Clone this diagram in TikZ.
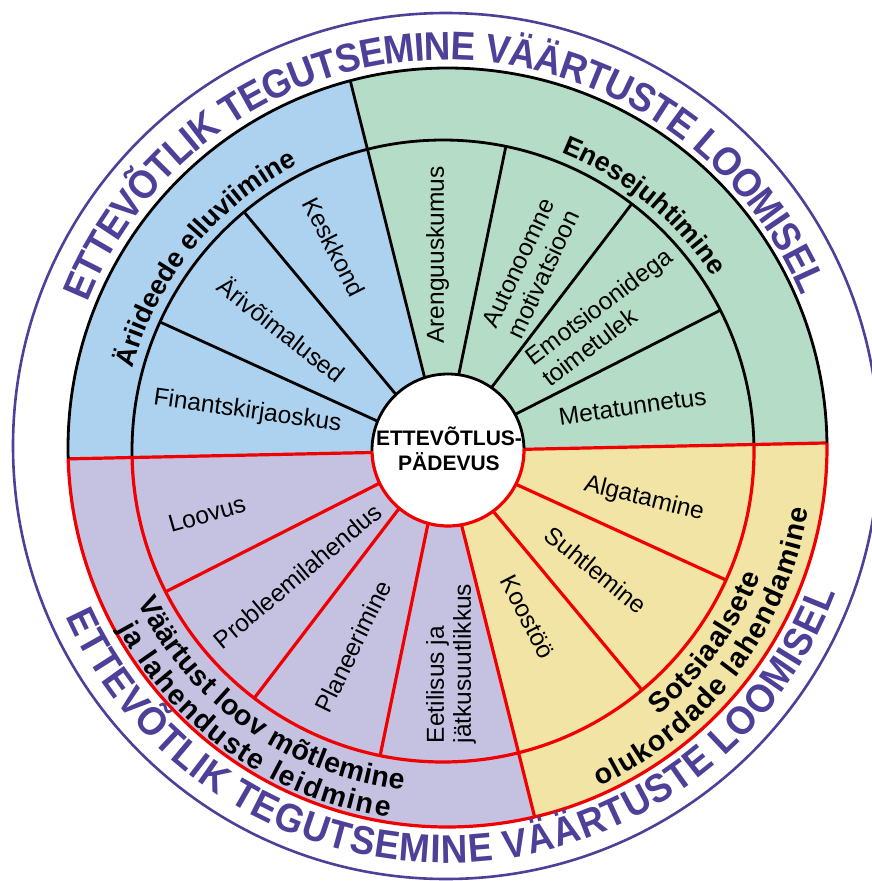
\documentclass[tikz,border=0pt]{standalone}
\usepackage{fontspec}
\setmainfont{Liberation Sans}
\newfontfamily\ringfont{Liberation Sans}[FakeStretch=0.92]
\usetikzlibrary{calc,decorations.text}
\definecolor{blueF}{HTML}{ADD2EF}
\definecolor{greenF}{HTML}{B5DCC6}
\definecolor{purpleF}{HTML}{C5C1E1}
\definecolor{yellowF}{HTML}{F2E4A5}
\definecolor{ringC}{HTML}{4E3F98}
\definecolor{redL}{HTML}{F00000}
\newcommand\catfontA{\fontsize{27}{27}\selectfont\bfseries}
\newcommand\catfontB{\fontsize{28.5}{28.5}\selectfont\bfseries}
\newcommand\ringfmt{\ringfont\bfseries\fontsize{40}{40}\selectfont\color{ringC}}
\begin{document}
\begin{tikzpicture}[x=1pt,y=1pt,
  blk/.style={line width=2.8pt, black},
  redl/.style={line width=3.2pt, redL},
  seglabel/.style={font=\fontsize{24.5}{27}\selectfont, inner sep=0pt},
  centerlabel/.style={font=\fontsize{21}{24.7}\selectfont\bfseries, align=center, inner sep=0pt}]
\useasboundingbox (0,0) rectangle (872,-881);
\coordinate (C1) at (447.5,-447.5);
\coordinate (C2) at (443,-451);
\coordinate (C0) at (448,-450);
\coordinate (CR) at (446,-446);

% outer ring
\draw[ringC, line width=2.6pt] (CR) circle[radius=433];

% coloured sectors and radial lines
\begin{scope}
\clip (C1) circle[radius=379.5];
\fill[greenF] (C2) -- ++(1.2:600) arc[start angle=1.2,end angle=104.06,radius=600] -- cycle;
\fill[blueF] (C2) -- ++(104.06:600) arc[start angle=104.06,end angle=181.2,radius=600] -- cycle;
\fill[purpleF] (C2) -- ++(181.2:600) arc[start angle=181.2,end angle=284.06,radius=600] -- cycle;
\fill[yellowF] (C2) -- ++(284.06:600) arc[start angle=284.06,end angle=361.2,radius=600] -- cycle;
\draw[blk] (C2) -- ++(104.06:600);
\foreach \a in {26.91,52.63,78.34,129.77,155.49} \draw[blk] (C2) -- ++(\a:311);
\draw[blk] ($(C2)+(1.2:311)$) arc[start angle=1.2,end angle=181.2,radius=311];
\foreach \a in {206.91,232.63,258.34,309.77,335.49} \draw[redl] (C2) -- ++(\a:311);
\draw[redl] ($(C2)+(181.2:311)$) arc[start angle=181.2,end angle=361.2,radius=311];
\draw[redl] (C2) -- ++(284.06:600);
\draw[redl] ($(C2)+(181.2:600)$) -- ($(C2)+(1.2:600)$);
\end{scope}

% outer edge of coloured disc
\draw[blk] ($(C1)+(0.7:379.5)$) arc[start angle=0.7,end angle=181.7,radius=379.5];
\draw[redl] ($(C1)+(181.7:379.5)$) arc[start angle=181.7,end angle=360.7,radius=379.5];

% centre circle
\fill[white] (C0) circle[radius=76];
\draw[blk] ($(C0)+(1:76)$) arc[start angle=1,end angle=181,radius=76];
\draw[redl] ($(C0)+(181:76)$) arc[start angle=181,end angle=361,radius=76];
\node[centerlabel] (ctr) at (449,-449) {ETTEVÕTLUS-\\PÄDEVUS};

% segment labels
\node[seglabel, rotate=-8] (lfin) at (247.5,-411.7) {Finantskirjaoskus};
\node[seglabel, rotate=-38] (lari) at (282,-329) {Ärivõimalused};
\node[seglabel, rotate=-63] (lkes) at (334,-247) {Keskkond};
\node[seglabel, rotate=90] (lare) at (437.5,-255) {Arenguuskumus};
\node[seglabel, rotate=65, align=center] (laut) at (531,-268.5) {Autonoomne\\motivatsioon};
\node[seglabel, rotate=37, align=left] (lemo) at (606.8,-317) {Emotsioonidega\\toimetulek};
\node[seglabel, rotate=8] (lmet) at (632.5,-406.5) {Metatunnetus};
\node[seglabel, rotate=-14] (lalg) at (644,-499) {Algatamine};
\node[seglabel, rotate=-39] (lsuh) at (596,-570) {Suhtlemine};
\node[seglabel, rotate=-63] (lkoo) at (527.5,-617) {Koostöö};
\node[seglabel, rotate=16] (lloo) at (207,-514) {Loovus};
\node[seglabel, rotate=40] (lpro) at (297.5,-576) {Probleemilahendus};
\node[seglabel, rotate=64] (lpla) at (353,-646.5) {Planeerimine};
\node[seglabel, rotate=90, align=left] (leet) at (451,-663.5) {Eetilisus ja\\jätkusuutlikkus};

% category labels along arcs
\path[decorate, decoration={text along path, text={|\catfontA|Äriideede elluviimine}, text align=fit to path}]
  ($(C2)+(165.1:321)$) arc[start angle=165.1,end angle=116.9,radius=321];
\path[decorate, decoration={text along path, text={|\catfontA|Enesejuhtimine}, text align=fit to path}]
  ($(C2)+(68.4:321)$) arc[start angle=68.4,end angle=33.45,radius=321];
\path[decorate, decoration={text along path, text={|\catfontB|Väärtust loov mõtlemine}, text align=fit to path}]
  ($(C2)+(206.3:341)$) arc[start angle=206.3,end angle=263.3,radius=341];
\path[decorate, decoration={text along path, text={|\catfontB|ja lahenduste leidmine}, text align=fit to path}]
  ($(C2)+(208.6:370)$) arc[start angle=208.6,end angle=261.6,radius=370];
\path[decorate, decoration={text along path, text={|\catfontB|Sotsiaalsete}, text align=fit to path}]
  ($(C2)+(309.1:341)$) arc[start angle=309.1,end angle=338.6,radius=341];
\path[decorate, decoration={text along path, text={|\catfontB|olukordade lahendamine}, text align=fit to path}]
  ($(C2)+(295.0:370)$) arc[start angle=295.0,end angle=351.0,radius=370];

% ring texts
\path[decorate, decoration={text along path, text={|\ringfmt|ETTEVÕTLIK TEGUTSEMINE VÄÄRTUSTE LOOMISEL}, text align=fit to path, raise=-14pt}]
  ($(CR)+(158.2:400)$) arc[start angle=158.2,end angle=23.0,radius=400];
\path[decorate, decoration={text along path, text={|\ringfmt|ETTEVÕTLIK TEGUTSEMINE VÄÄRTUSTE LOOMISEL}, text align=fit to path, raise=-15pt}]
  ($(CR)+(204.1:402)$) arc[start angle=204.1,end angle=339.4,radius=402];
\end{tikzpicture}
\end{document}
